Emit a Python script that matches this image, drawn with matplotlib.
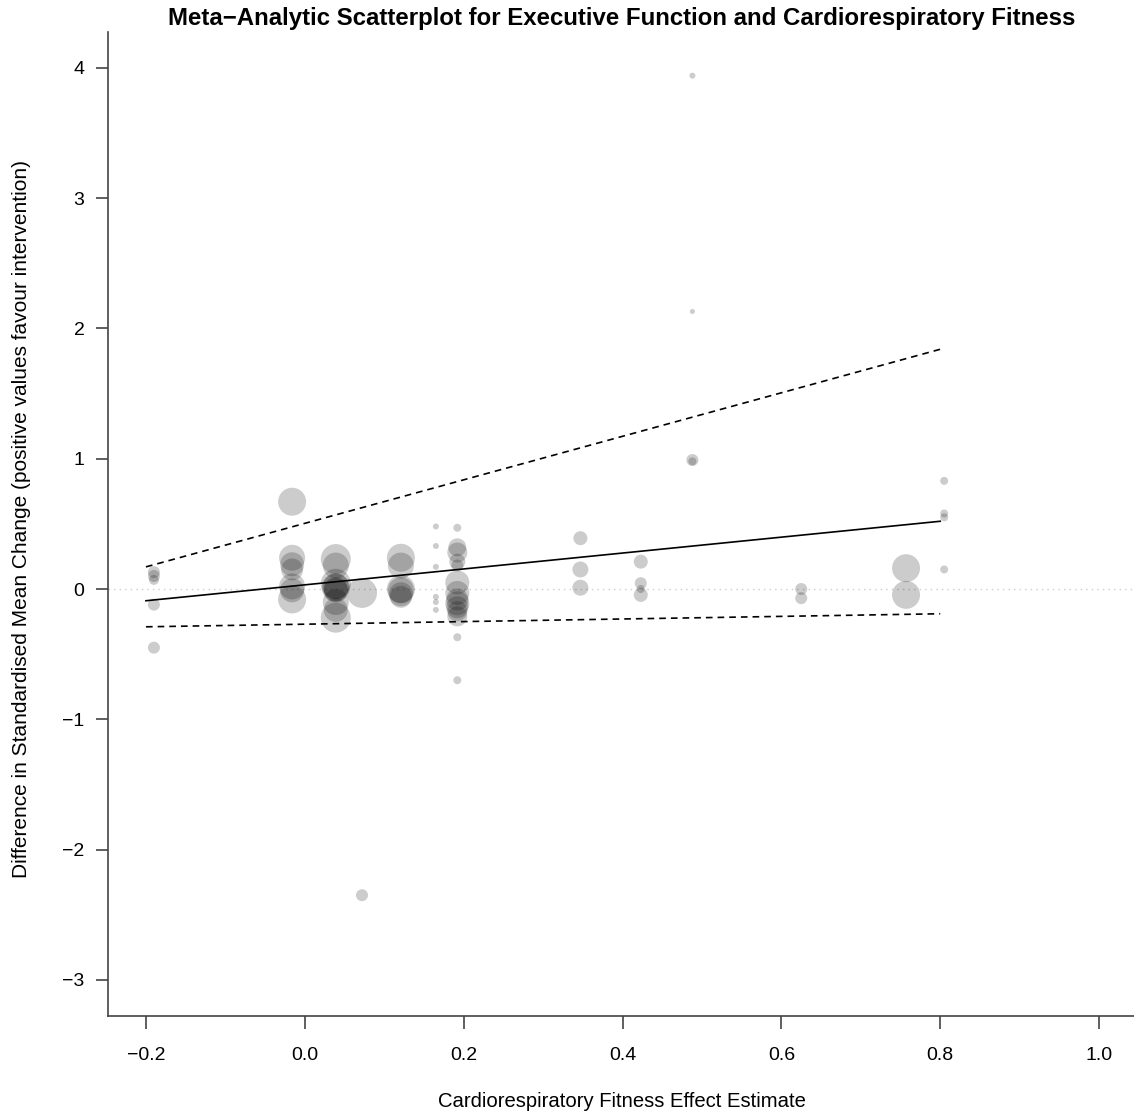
import matplotlib
matplotlib.use("Agg")
import matplotlib.pyplot as plt
import numpy as np

plt.rcParams['font.family'] = ['Liberation Sans', 'DejaVu Sans']

# study estimates: fitness effect (x), executive function effect (y), marker radius (px)
fitness = [-0.19, -0.19, -0.19, -0.19, -0.19,
           -0.016, -0.016, -0.016, -0.016, -0.016, -0.016, -0.016,
           0.039, 0.039, 0.039, 0.039, 0.039, 0.039, 0.039, 0.039, 0.039, 0.039,
           0.072,
           0.121, 0.121, 0.121, 0.121, 0.121, 0.121,
           0.165, 0.165, 0.165, 0.165, 0.165, 0.165,
           0.192, 0.192, 0.192, 0.192, 0.192, 0.192, 0.192, 0.192, 0.192, 0.192, 0.192, 0.192, 0.192, 0.192,
           0.347, 0.347, 0.347,
           0.423, 0.423, 0.423, 0.423,
           0.488, 0.488, 0.488, 0.488,
           0.625, 0.625,
           0.757, 0.757,
           0.805, 0.805, 0.805, 0.805,
           0.072]
exec_fn = [0.13, 0.10, 0.07, -0.12, -0.45,
           0.67, 0.24, 0.19, 0.15, 0.02, -0.01, -0.08,
           0.23, 0.18, 0.04, 0.02, 0.01, 0.00, -0.01, -0.10, -0.16, -0.22,
           -0.03,
           0.24, 0.18, 0.00, -0.01, -0.04, -0.06,
           0.48, 0.33, 0.17, -0.06, -0.10, -0.16,
           0.47, 0.32, 0.28, 0.21, 0.18, 0.05, -0.03, -0.08, -0.11, -0.14, -0.17, -0.21, -0.37, -0.70,
           0.39, 0.15, 0.01,
           0.21, 0.045, 0.0, -0.045,
           3.94, 2.13, 0.99, 0.98,
           0.0, -0.07,
           0.16, -0.045,
           0.83, 0.58, 0.55, 0.15,
           -2.35]
radius = [6, 6, 5, 6, 6,
          14, 13, 12, 11, 13, 12, 14,
          15, 13, 15, 13, 14, 12, 12, 13, 12, 15,
          15,
          14, 13, 14, 13, 12, 11,
          3, 3, 3, 3, 3, 3,
          4, 9, 10, 8, 6, 12, 12, 11, 12, 11, 10, 10, 4, 4,
          7, 8, 8,
          7, 6, 4, 7,
          3, 2.5, 6, 4,
          6, 6,
          14, 14,
          4, 4, 4, 4,
          6]

# meta-regression line and confidence bounds
line_x = [-0.2, 0.8]
pred = [-0.09, 0.52]
ci_upper = [0.17, 1.84]
ci_lower = [-0.29, -0.19]

fig = plt.figure(figsize=(11.34, 11.17), dpi=100)
ax = fig.add_axes([108 / 1134, 1 - 1016 / 1117, 1 - 108 / 1134, (1016 - 32) / 1117])

sizes = (2 * np.array(radius) * 0.72) ** 2
ax.scatter(fitness, exec_fn, s=sizes, color='black', alpha=0.2, linewidths=0, zorder=2)

ax.axhline(0, color='#cccccc', linestyle=(0, (1, 3)), linewidth=1, zorder=1)
ax.plot(line_x, pred, color='black', linewidth=1.2, zorder=3)
ax.plot(line_x, ci_upper, color='black', linewidth=1.2, linestyle=(0, (4, 3)), zorder=3)
ax.plot(line_x, ci_lower, color='black', linewidth=1.2, linestyle=(0, (4, 3)), zorder=3)

ax.set_xlim(-0.2478, 1.044)
ax.set_ylim(-3.277, 4.275)
ax.set_xticks([-0.2, 0.0, 0.2, 0.4, 0.6, 0.8, 1.0])
ax.set_xticklabels(['\u22120.2', '0.0', '0.2', '0.4', '0.6', '0.8', '1.0'])
ax.set_yticks([-3, -2, -1, 0, 1, 2, 3, 4])
ax.set_yticklabels(['\u22123', '\u22122', '\u22121', '0', '1', '2', '3', '4'])

for side in ['top', 'right']:
    ax.spines[side].set_visible(False)
for side in ['left', 'bottom']:
    ax.spines[side].set_color('#444444')
    ax.spines[side].set_linewidth(1.2)
ax.tick_params(axis='both', direction='out', length=9, width=1.2, color='#444444', labelsize=14)
ax.tick_params(axis='x', pad=13)
ax.tick_params(axis='y', pad=8)

ax.set_xlabel('Cardiorespiratory Fitness Effect Estimate', fontsize=14.6)
ax.xaxis.set_label_coords((622 - 108) / 1026, -(1092 - 1016) / 984)
ax.set_ylabel('Difference in Standardised Mean Change (positive values favour intervention)', fontsize=15)
ax.yaxis.set_label_coords(-(108 - 31) / 1026, (1016 - 519) / 984)

fig.text(622 / 1134, 1 - 18 / 1117, 'Meta\u2212Analytic Scatterplot for Executive Function and Cardiorespiratory Fitness',
         fontsize=17.3, fontweight='bold', ha='center', va='center')

fig.savefig('out.png', dpi=100)
